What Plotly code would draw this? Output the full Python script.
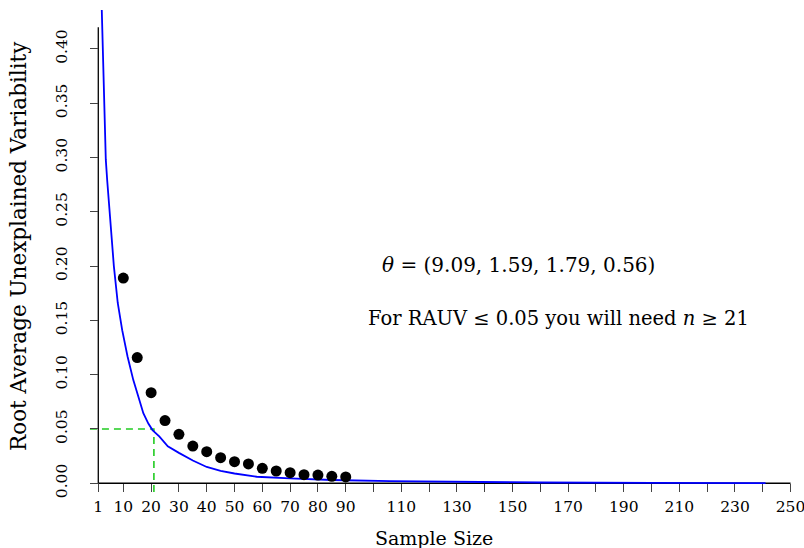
import plotly.graph_objects as go

# ---- data ----
sample_n = [10, 15, 20, 25, 30, 35, 40, 45, 50, 55, 60, 65, 70, 75, 80, 85, 90]
rauv_obs = [0.189, 0.1157, 0.0834, 0.0577, 0.0451, 0.0343, 0.0291, 0.0236, 0.0199,
            0.0178, 0.0138, 0.0113, 0.0098, 0.0079, 0.0076, 0.0064, 0.0058]

curve_n = [2, 3.7, 4.2, 5.5, 6.6, 8, 9.6, 11.5, 13.6, 15.5, 17.2, 19, 20.5, 23, 26, 30,
           35, 40, 45, 50, 58, 70, 85, 106, 130, 160, 200, 241]
curve_v = [0.46, 0.298, 0.279, 0.236, 0.200, 0.166, 0.141, 0.117, 0.095, 0.079, 0.0645,
           0.055, 0.049, 0.043, 0.034, 0.028, 0.021, 0.015, 0.0115, 0.009, 0.006, 0.0045,
           0.003, 0.002, 0.0012, 0.0007, 0.0004, 0.0002]

theta = [9.09, 1.59, 1.79, 0.56]
target_rauv = 0.05
needed_n = 21

x_tickvals = [1] + list(range(10, 251, 10))
x_ticktext = ["1", "10", "20", "30", "40", "50", "60", "70", "80", "90", "", "110", "",
              "130", "", "150", "", "170", "", "190", "", "210", "", "230", "", "250"]
y_tickvals = [0, 0.05, 0.10, 0.15, 0.20, 0.25, 0.30, 0.35, 0.40]
y_ticktext = ["0.00", "0.05", "0.10", "0.15", "0.20", "0.25", "0.30", "0.35", "0.40"]

FONT = "DejaVu Serif"

fig = go.Figure()

# green dashed guide lines
fig.add_trace(go.Scatter(x=[-2, needed_n, needed_n], y=[target_rauv, target_rauv, -0.009],
                         mode="lines", line=dict(color="#22cc22", width=1.6, dash="7px,5px"),
                         hoverinfo="skip", showlegend=False))
# fitted curve
fig.add_trace(go.Scatter(x=curve_n, y=curve_v, mode="lines",
                         line=dict(color="#0000ff", width=1.8), showlegend=False))
# observed points
fig.add_trace(go.Scatter(x=sample_n, y=rauv_obs, mode="markers",
                         marker=dict(color="black", size=11), showlegend=False))

# axis lines
fig.add_shape(type="line", x0=1, x1=250, y0=0, y1=0, line=dict(color="black", width=1.3), layer="below")
fig.add_shape(type="line", x0=1, x1=1, y0=0, y1=0.42, line=dict(color="black", width=1.3), layer="below")

L, R, T, B = 80, 9, 10, 53
W, H = 804, 548
pw, ph = W - L - R, H - T - B

fig.update_layout(
    width=W, height=H,
    margin=dict(l=L, r=R, t=T, b=B, autoexpand=False),
    plot_bgcolor="white", paper_bgcolor="white",
    font=dict(family=FONT, color="black"),
    xaxis=dict(range=[-5.58, 251.6], showgrid=False, zeroline=False, showline=False,
               tickvals=x_tickvals, ticktext=x_ticktext, ticks="outside", ticklen=8,
               tickcolor="#444", tickwidth=1, tickfont=dict(size=15.5, family=FONT),
               anchor="free", position=(495 - 483.3) / ph, automargin=False,
               ticklabelstandoff=1, ticklabeloverflow="allow"),
    yaxis=dict(range=[-0.0108, 0.4358], showgrid=False, zeroline=False, showline=False,
               tickvals=y_tickvals, ticktext=y_ticktext, ticks="outside", ticklen=8,
               tickcolor="#444", tickwidth=1, tickfont=dict(size=15.5, family=FONT),
               tickangle=-90, anchor="free", position=(98.3 - L) / pw, automargin=False,
               ticklabelstandoff=17, ticklabeloverflow="allow"),
)

theta_txt = "<i>θ</i> = (" + ", ".join(f"{t:.2f}" for t in theta) + ")"
need_txt = f"For RAUV ≤ {target_rauv:.2f} you will need <i>n</i> ≥ {needed_n}"

fig.add_annotation(x=152.3, y=0.201, xref="x", yref="y", text=theta_txt, showarrow=False,
                   xanchor="center", yanchor="middle", font=dict(size=20, family=FONT))
fig.add_annotation(x=166.4, y=0.152, xref="x", yref="y", text=need_txt, showarrow=False,
                   xanchor="center", yanchor="middle", font=dict(size=19.5, family=FONT))

fig.add_annotation(x=(434 - L) / pw, y=(H - B - 538) / ph, xref="paper", yref="paper",
                   text="Sample Size", showarrow=False, xanchor="center", yanchor="middle",
                   font=dict(size=19, family=FONT))
fig.add_annotation(x=(18 - L) / pw, y=(H - B - 246) / ph, xref="paper", yref="paper",
                   text="Root Average Unexplained Variability", textangle=-90,
                   xanchor="center", yanchor="middle",
                   showarrow=False, font=dict(size=21.5, family=FONT))

fig.write_html("out.html")
